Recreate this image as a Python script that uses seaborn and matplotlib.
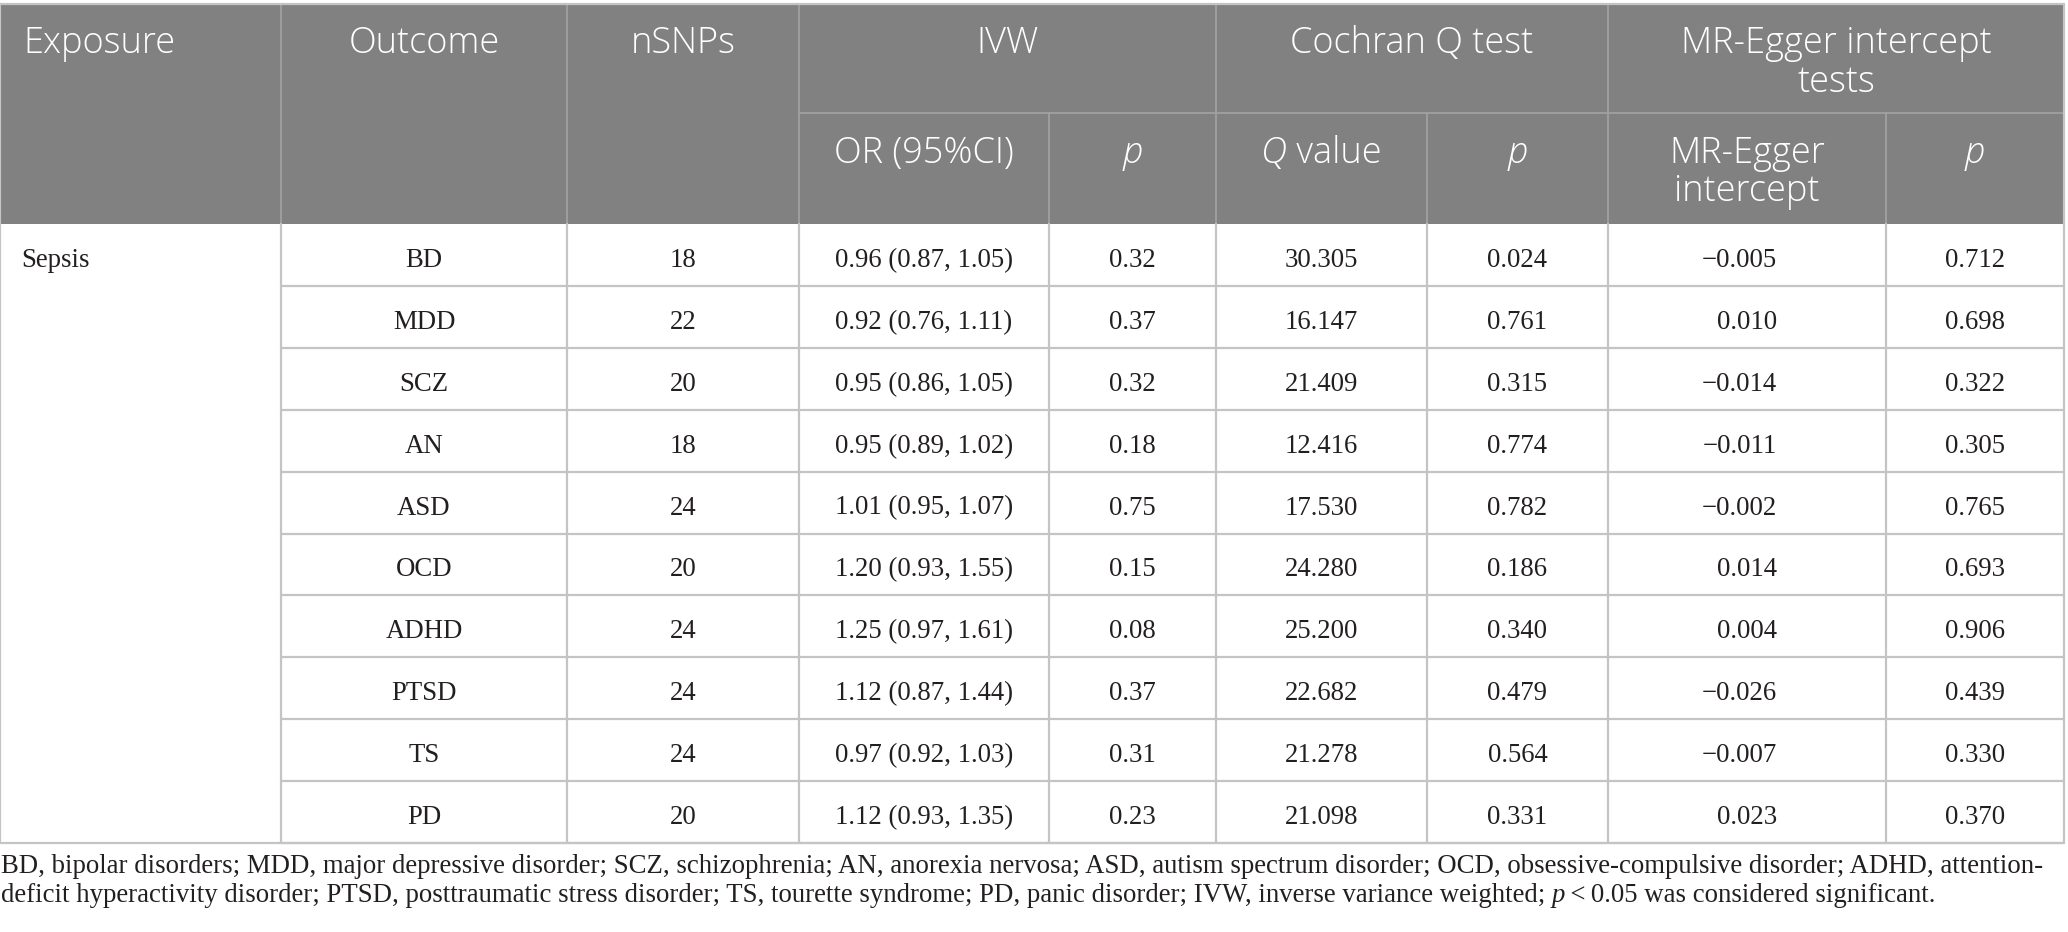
import numpy as np
import pandas as pd
import seaborn as sns
import matplotlib.pyplot as plt

# table values
outcomes = ["BD", "MDD", "SCZ", "AN", "ASD", "OCD", "ADHD", "PTSD", "TS", "PD"]
nsnps = [18, 22, 20, 18, 24, 20, 24, 24, 24, 20]
or_est = [0.96, 0.92, 0.95, 0.95, 1.01, 1.20, 1.25, 1.12, 0.97, 1.12]
ci_low = [0.87, 0.76, 0.86, 0.89, 0.95, 0.93, 0.97, 0.87, 0.92, 0.93]
ci_high = [1.05, 1.11, 1.05, 1.02, 1.07, 1.55, 1.61, 1.44, 1.03, 1.35]
ivw_p = [0.32, 0.37, 0.32, 0.18, 0.75, 0.15, 0.08, 0.37, 0.31, 0.23]
q_value = [30.305, 16.147, 21.409, 12.416, 17.530, 24.280, 25.200, 22.682, 21.278, 21.098]
q_p = [0.024, 0.761, 0.315, 0.774, 0.782, 0.186, 0.340, 0.479, 0.564, 0.331]
egger_int = [-0.005, 0.010, -0.014, -0.011, -0.002, 0.014, 0.004, -0.026, -0.007, 0.023]
egger_p = [0.712, 0.698, 0.322, 0.305, 0.765, 0.693, 0.906, 0.439, 0.330, 0.370]
exposure = "Sepsis"

df = pd.DataFrame({
    "Outcome": outcomes,
    "nSNPs": [str(n) for n in nsnps],
    "OR": [f"{o:.2f} ({l:.2f}, {h:.2f})" for o, l, h in zip(or_est, ci_low, ci_high)],
    "p_ivw": [f"{p:.2f}" for p in ivw_p],
    "Q": [f"{q:.3f}" for q in q_value],
    "p_q": [f"{p:.3f}" for p in q_p],
    "egger": [f"{e:.3f}".replace("-", "\u2212") for e in egger_int],
    "p_egger": [f"{p:.3f}" for p in egger_p],
})

sns.set_theme(style="white")
plt.rcParams['font.family'] = ['Liberation Serif', 'DejaVu Serif']

W, H = 2068, 932
fig = plt.figure(figsize=(W / 100, H / 100), dpi=100)
ax = fig.add_axes([0, 0, 1, 1])
ax.set_xlim(0, W)
ax.set_ylim(H, 0)
ax.axis("off")

cols = [0, 281, 567, 799, 1049, 1216, 1427, 1608, 1886, 2064]
top, mid, hbot = 4, 113, 224
row_h = 61.9
nrows = len(df)
bottom = hbot + row_h * nrows

hdr_grey = "#808180"
hdr_line = "#a3a3a3"
grid = "#c4c4c4"
ink = "#231f20"
sans = ['Open Sans', 'DejaVu Sans']
hsize = 26
bsize = 19.3

# header block
ax.add_patch(plt.Rectangle((0, top), cols[-1], hbot - top, color=hdr_grey, lw=0, zorder=1))
for x in [cols[1], cols[2], cols[3], cols[5], cols[7]]:
    ax.plot([x, x], [top, hbot], color=hdr_line, lw=1.2, zorder=2)
for x in [cols[4], cols[6], cols[8]]:
    ax.plot([x, x], [mid, hbot], color=hdr_line, lw=1.2, zorder=2)
ax.plot([cols[3], cols[-1]], [mid, mid], color=hdr_line, lw=1.2, zorder=2)

# body grid
for i in range(1, nrows + 1):
    y = hbot + row_h * i
    ax.plot([cols[1], cols[-1]], [y, y], color=grid, lw=1.6, zorder=2)
ax.plot([0, cols[-1]], [bottom, bottom], color=grid, lw=1.6, zorder=2)
ax.plot([0, cols[-1]], [top, top], color=grid, lw=1.6, zorder=2)
for x in cols:
    ax.plot([x, x], [hbot, bottom], color=grid, lw=1.6, zorder=2)
ax.plot([0, 0], [top, hbot], color=grid, lw=1.6, zorder=2)
ax.plot([cols[-1], cols[-1]], [top, hbot], color=grid, lw=1.6, zorder=2)

renderer = fig.canvas.get_renderer()


def rich(x, y, runs, ha="center", **kw):
    objs = [ax.text(0, y, s, style=st, ha="left", va="baseline", zorder=3, **kw)
            for s, st in runs]
    widths = [o.get_window_extent(renderer).width for o in objs]
    start = x - sum(widths) / 2 if ha == "center" else x
    for o, w in zip(objs, widths):
        o.set_x(start)
        start += w


def ctr(i):
    return (cols[i] + cols[i + 1]) / 2


hkw = dict(color="white", fontsize=hsize, family=sans, fontweight="light")
b1, b2 = 53, 163
ax.text(23, b1, "Exposure", ha="left", va="baseline", **hkw)
ax.text(ctr(1), b1, "Outcome", ha="center", va="baseline", **hkw)
ax.text(ctr(2), b1, "nSNPs", ha="center", va="baseline", **hkw)
ax.text((cols[3] + cols[5]) / 2, b1, "IVW", ha="center", va="baseline", **hkw)
ax.text((cols[5] + cols[7]) / 2, b1, "Cochran Q test", ha="center", va="baseline", **hkw)
ax.text((cols[7] + cols[9]) / 2, b1, "MR-Egger intercept", ha="center", va="baseline", **hkw)
ax.text((cols[7] + cols[9]) / 2, b1 + 39, "tests", ha="center", va="baseline", **hkw)
ax.text(ctr(3), b2, "OR (95%CI)", ha="center", va="baseline", **hkw)
rich(ctr(4), b2, [("p", "italic")], **hkw)
rich(ctr(5), b2, [("Q", "italic"), (" value", "normal")], **hkw)
rich(ctr(6), b2, [("p", "italic")], **hkw)
ax.text(ctr(7), b2, "MR-Egger", ha="center", va="baseline", **hkw)
ax.text(ctr(7), b2 + 38, "intercept", ha="center", va="baseline", **hkw)
rich(ctr(8), b2, [("p", "italic")], **hkw)

# body text
bkw = dict(color=ink, fontsize=bsize)
off = 12
ax.text(21, hbot + row_h / 2 + off, exposure, ha="left", va="baseline", **bkw)
body_cols = ["Outcome", "nSNPs", "OR", "p_ivw", "Q", "p_q", "egger", "p_egger"]
for r in range(nrows):
    yb = hbot + row_h * r + row_h / 2 + off
    for j, c in enumerate(body_cols):
        txt = df[c].iloc[r]
        if c == "egger":
            ax.text(1777, yb, txt, ha="right", va="baseline", **bkw)
        else:
            ax.text(ctr(j + 1), yb, txt, ha="center", va="baseline", **bkw)

# footnote
note1 = ("BD, bipolar disorders; MDD, major depressive disorder; SCZ, schizophrenia; "
         "AN, anorexia nervosa; ASD, autism spectrum disorder; OCD, obsessive-compulsive "
         "disorder; ADHD, attention-")
note2 = ("deficit hyperactivity disorder; PTSD, posttraumatic stress disorder; TS, tourette "
         "syndrome; PD, panic disorder; IVW, inverse variance weighted; ")
ax.text(1, 873, note1, ha="left", va="baseline", **bkw)
rich(1, 902, [(note2, "normal"), ("p", "italic"), ("\u2009<\u20090.05 was considered significant.", "normal")],
     ha="left", **bkw)

fig.savefig("out.png", dpi=100)
